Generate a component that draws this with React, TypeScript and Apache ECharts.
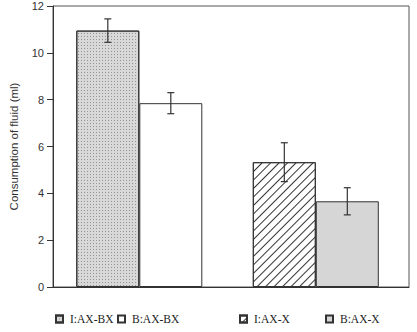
import React, { useEffect, useRef } from "react";
import * as echarts from "echarts";

const groups = ["AX-BX", "AX-X"];
const groupPos = [0.5, 1.5];
const seriesNames = ["I:AX-BX", "B:AX-BX", "I:AX-X", "B:AX-X"];
const means = [10.95, 7.85, 5.33, 3.66];
const errors = [0.5, 0.45, 0.83, 0.58];
const groupOfSeries = [0, 0, 1, 1];
const stackOfSeries = ["I", "B", "I", "B"];
const yTicks = { min: 0, max: 12, interval: 2 };

const BAR_W = 63;
const EDGE = "#333";

const styles: any[] = [
  {
    color: "#d8d8d8",
    borderColor: EDGE,
    borderWidth: 1,
    decal: {
      symbol: "rect",
      symbolSize: 1,
      dashArrayX: [1, 2],
      dashArrayY: [1, 2],
      color: "rgba(80,80,80,0.5)",
    },
  },
  { color: "#ffffff", borderColor: EDGE, borderWidth: 1 },
  {
    color: "#ffffff",
    borderColor: EDGE,
    borderWidth: 1,
    decal: {
      symbol: "rect",
      symbolSize: 1,
      dashArrayX: [1, 0],
      dashArrayY: [1, 5],
      rotation: -Math.PI / 4,
      color: "#333",
    },
  },
  { color: "#d6d6d6", borderColor: EDGE, borderWidth: 1 },
];

const legendLeft = [55, 117, 239, 325];

export default function App() {
  const ref = useRef<HTMLDivElement>(null);
  useEffect(() => {
    if (!ref.current) return;
    const chart = echarts.init(ref.current, undefined, { renderer: "svg" });
    const barSeries = seriesNames.map((name, i) => ({
      name,
      type: "bar",
      stack: stackOfSeries[i],
      barWidth: BAR_W,
      barGap: "0%",
      data: groups.map((_, g) => [groupPos[g], g === groupOfSeries[i] ? means[i] : "-"]),
      itemStyle: styles[i],
      emphasis: { disabled: true },
    }));
    const errData = means.map((m, i) => [
      groupPos[groupOfSeries[i]],
      m - errors[i],
      m + errors[i],
      stackOfSeries[i] === "I" ? -1 : 1,
    ]);
    chart.setOption({
      animation: false,
      grid: {
        left: 50,
        right: 8,
        top: 6,
        bottom: 45,
        show: true,
        borderColor: "#555",
        borderWidth: 1,
      },
      xAxis: {
        type: "value",
        min: 0.011,
        max: 2.028,
        axisLine: { show: true, onZero: false, lineStyle: { color: "#333" } },
        axisTick: { show: false },
        axisLabel: { show: false },
        splitLine: { show: false },
      },
      yAxis: {
        type: "value",
        min: yTicks.min,
        max: yTicks.max,
        interval: yTicks.interval,
        name: "Consumption of fluid (ml)",
        nameLocation: "middle",
        nameGap: 33,
        nameTextStyle: { fontFamily: "Liberation Sans", fontSize: 11.5, color: "#333" },
        axisLine: { show: true, onZero: false, lineStyle: { color: "#333" } },
        axisTick: { show: true, length: 6, lineStyle: { color: "#333" } },
        axisLabel: { fontFamily: "Liberation Sans", fontSize: 11, color: "#333", margin: 9 },
        splitLine: { show: false },
      },
      legend: seriesNames.map((name, i) => ({
        data: [{ name, icon: "rect" }],
        left: legendLeft[i],
        top: 313,
        itemWidth: 7,
        itemHeight: 7,
        itemGap: 0,
        padding: 0,
        selectedMode: false,
        textStyle: {
          fontFamily: "'Liberation Serif', 'DejaVu Serif', serif",
          fontSize: 11.5,
          color: "#222",
          padding: [0, 0, 0, 2],
        },
      })),
      series: [
        ...barSeries,
        {
          type: "custom",
          name: "err",
          z: 10,
          data: errData,
          encode: { x: 0, y: [1, 2] },
          renderItem: (params: any, api: any) => {
            const gx = api.value(0);
            const lo = api.coord([gx, api.value(1)]);
            const hi = api.coord([gx, api.value(2)]);
            const x = lo[0] + api.value(3) * (BAR_W / 2);
            const hw = 3.5;
            const st = { stroke: "#333", lineWidth: 1.2 };
            return {
              type: "group",
              children: [
                { type: "line", shape: { x1: x, y1: hi[1], x2: x, y2: lo[1] }, style: st },
                { type: "line", shape: { x1: x - hw, y1: hi[1], x2: x + hw, y2: hi[1] }, style: st },
                { type: "line", shape: { x1: x - hw, y1: lo[1], x2: x + hw, y2: lo[1] }, style: st },
              ],
            };
          },
        },
      ],
    });
    return () => chart.dispose();
  }, []);
  return (
    <div
      ref={ref}
      style={{ position: "fixed", left: 0, top: 0, width: 417, height: 332, background: "#fff" }}
    />
  );
}
